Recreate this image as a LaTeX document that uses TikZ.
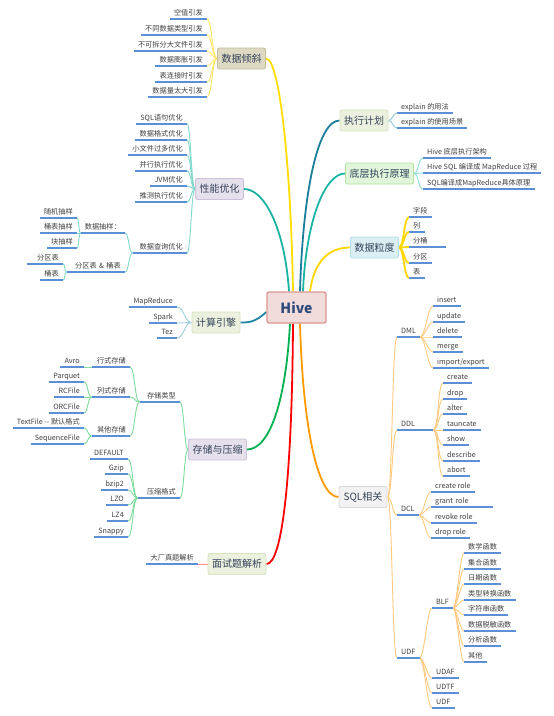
\documentclass[tikz,border=0pt]{standalone}
\usepackage{fontspec}
\setmainfont{Noto Sans CJK SC}
\usetikzlibrary{backgrounds}

\definecolor{ulblue}{HTML}{5B8FD6}
\definecolor{leaftext}{HTML}{404040}
\definecolor{topictext}{HTML}{34425A}
\definecolor{hivetext}{HTML}{2E4A7A}
\definecolor{hivefill}{HTML}{F2DCDB}
\definecolor{hiveline}{HTML}{D99694}
\definecolor{tanfill}{HTML}{DDD9C3}
\definecolor{tanline}{HTML}{C4BD97}
\definecolor{lilfill}{HTML}{E5E0EC}
\definecolor{lilline}{HTML}{CCC1DA}
\definecolor{olvfill}{HTML}{EBF1DE}
\definecolor{olvline}{HTML}{D7E4BD}
\definecolor{mintfill}{HTML}{E0F5D9}
\definecolor{mintline}{HTML}{B2E3A4}
\definecolor{skyfill}{HTML}{DBEEF4}
\definecolor{skyline}{HTML}{B7DDE8}
\definecolor{grayfill}{HTML}{F2F2F2}
\definecolor{grayline}{HTML}{D9D9D9}
\definecolor{cskew}{HTML}{FFDD00}
\definecolor{cskewl}{HTML}{FFE566}
\definecolor{cperf}{HTML}{1AB2A0}
\definecolor{cperfl}{HTML}{80D9CC}
\definecolor{ceng}{HTML}{1F86A3}
\definecolor{cengl}{HTML}{9ACFE0}
\definecolor{cstore}{HTML}{00B050}
\definecolor{cstorel}{HTML}{7DDB9C}
\definecolor{cintv}{HTML}{FF0000}
\definecolor{cintvl}{HTML}{FF8A8A}
\definecolor{cplan}{HTML}{1B7F9B}
\definecolor{cplanl}{HTML}{8CCAD9}
\definecolor{carch}{HTML}{1AB5A5}
\definecolor{carchl}{HTML}{88DFD5}
\definecolor{cgrain}{HTML}{FFD700}
\definecolor{csql}{HTML}{FF9A00}
\definecolor{csqll}{HTML}{FFC97F}

\begin{document}
\begin{tikzpicture}[x=1pt,y=-1pt,
  uline/.style={draw=ulblue,line width=1.3pt},
  leaf/.style={font=\fontsize{7.2}{8}\selectfont,text=leaftext,inner xsep=4pt,inner ysep=2pt,
    text height=6pt,text depth=1.5pt,
    append after command={(\tikzlastnode.south west) edge[uline] (\tikzlastnode.south east)}},
  lleaf/.style={leaf,anchor=south east},
  rleaf/.style={leaf,anchor=south west},
  lw/.style={text width=#1,align=right},
  rw/.style={text width=#1,align=left},
  topic/.style={draw,rounded corners=2pt,line width=0.9pt,font=\fontsize{10}{12}\selectfont,
    text=topictext,inner xsep=4pt,minimum height=21pt,minimum width=48pt},
  main/.style={line width=1.8pt},
  sub/.style={line width=0.9pt}]
\useasboundingbox (0,0) rectangle (554,716);

\node[topic,fill=hivefill,draw=hiveline,line width=1.3pt,font=\fontsize{14}{16}\selectfont\bfseries,
  text=hivetext,minimum width=59pt,minimum height=31pt] (hive) at (296.5,307.5) {Hive};

\node[topic,fill=tanfill,draw=tanline] (skew) at (241.5,58.5) {数据倾斜};
\node[topic,fill=lilfill,draw=lilline] (perf) at (219.5,189) {性能优化};
\node[topic,fill=olvfill,draw=olvline] (eng) at (216,322.5) {计算引擎};
\node[topic,fill=lilfill,draw=lilline] (store) at (217.5,449.5) {存储与压缩};
\node[topic,fill=olvfill,draw=olvline,minimum width=58pt] (intv) at (237,564) {面试题解析};
\node[topic,fill=olvfill,draw=olvline] (plan) at (364,120.5) {执行计划};
\node[topic,fill=mintfill,draw=mintline] (arch) at (379.5,173.5) {底层执行原理};
\node[topic,fill=skyfill,draw=skyline] (grain) at (374.5,247.5) {数据粒度};
\node[topic,fill=grayfill,draw=grayline] (sql) at (363,497) {SQL相关};

% data skew
\node[lleaf] (skew1) at (207,19) {空值引发};
\node[lleaf] (skew2) at (207,35) {不同数据类型引发};
\node[lleaf] (skew3) at (207,51) {不可拆分大文件引发};
\node[lleaf] (skew4) at (207,66) {数据膨胀引发};
\node[lleaf] (skew5) at (207,82) {表连接时引发};
\node[lleaf] (skew6) at (207,97) {数据量太大引发};

% tuning
\node[lleaf] (perf1) at (187,124) {SQL语句优化};
\node[lleaf] (perf2) at (187,140) {数据格式优化};
\node[lleaf] (perf3) at (187,155) {小文件过多优化};
\node[lleaf] (perf4) at (187,171) {并行执行优化};
\node[lleaf] (perf5) at (187,186) {JVM优化};
\node[lleaf] (perf6) at (187,202) {推测执行优化};
\node[lleaf,lw=46pt] (perf7) at (187,253) {数据查询优化};
\node[lleaf] (samp) at (125,233) {数据抽样：};
\node[lleaf] (samp1) at (77,218) {随机抽样};
\node[lleaf] (samp2) at (77,233) {桶表抽样};
\node[lleaf] (samp3) at (77,248) {块抽样};
\node[lleaf,lw=50pt] (part) at (125,272) {分区表 \& 桶表};
\node[lleaf,lw=28pt] (part1) at (63,264) {分区表};
\node[lleaf] (part2) at (63,280) {桶表};

% engines
\node[lleaf] (eng1) at (177,307) {MapReduce};
\node[lleaf] (eng2) at (177,323) {Spark};
\node[lleaf] (eng3) at (177,338) {Tez};

% storage
\node[lleaf,lw=32pt] (type) at (180,402) {存储类型};
\node[lleaf,lw=30pt] (row) at (130,367) {行式存储};
\node[lleaf] (avro) at (84,367) {Avro};
\node[lleaf,lw=30pt] (col) at (130,397) {列式存储};
\node[lleaf] (parq) at (84,382) {Parquet};
\node[lleaf] (rcf) at (84,397) {RCFile};
\node[lleaf] (orc) at (84,413) {ORCFile};
\node[lleaf,lw=30pt] (oth) at (130,436) {其他存储};
\node[lleaf] (txt) at (84,428) {TextFile -{}- 默认格式};
\node[lleaf] (seq) at (84,444) {SequenceFile};
\node[lleaf,lw=34pt] (comp) at (180,498) {压缩格式};
\node[lleaf] (def) at (128,459) {DEFAULT};
\node[lleaf] (gz) at (128,474) {Gzip};
\node[lleaf] (bz) at (128,490) {bzip2};
\node[lleaf] (lzo) at (128,505) {LZO};
\node[lleaf] (lz4) at (128,521) {LZ4};
\node[lleaf] (snap) at (128,537) {Snappy};

% interview
\node[lleaf] (real) at (198,564) {大厂真题解析};

% plan
\node[rleaf] (plan1) at (397,113) {explain 的用法};
\node[rleaf] (plan2) at (397,128) {explain 的使用场景};

% internals
\node[rleaf] (arch1) at (423,158) {Hive 底层执行架构};
\node[rleaf] (arch2) at (423,173) {Hive SQL 编译成 MapReduce 过程};
\node[rleaf] (arch3) at (423,189) {SQL编译成MapReduce具体原理};

% granularity
\node[rleaf] (g1) at (409,217) {字段};
\node[rleaf] (g2) at (409,232) {列};
\node[rleaf,rw=29pt] (g3) at (409,247) {分桶};
\node[rleaf] (g4) at (409,263) {分区};
\node[rleaf] (g5) at (409,278) {表};

% sql
\node[rleaf] (dml) at (397,337) {DML};
\node[rleaf] (ins) at (433,306) {insert};
\node[rleaf] (upd) at (433,322) {update};
\node[rleaf] (del) at (433,337) {delete};
\node[rleaf] (mrg) at (433,352) {merge};
\node[rleaf] (imp) at (433,368) {import/export};
\node[rleaf,rw=28pt] (ddl) at (397,430) {DDL};
\node[rleaf] (crt) at (443,383) {create};
\node[rleaf] (drp) at (443,399) {drop};
\node[rleaf] (alt) at (443,414) {alter};
\node[rleaf] (tau) at (443,430) {tauncate};
\node[rleaf] (shw) at (443,445) {show};
\node[rleaf] (dsc) at (443,461) {describe};
\node[rleaf] (abt) at (443,476) {abort};
\node[rleaf] (dcl) at (397,515) {DCL};
\node[rleaf] (crole) at (431,492) {create role};
\node[rleaf,rw=54pt] (grole) at (431,507) {grant role};
\node[rleaf] (rrole) at (431,523) {revoke role};
\node[rleaf] (drole) at (431,538) {drop role};
\node[rleaf] (udf) at (397,658) {UDF};
\node[rleaf] (blf) at (432,608) {BLF};
\node[rleaf] (fn1) at (464,553) {数学函数};
\node[rleaf] (fn2) at (464,569) {集合函数};
\node[rleaf] (fn3) at (464,584) {日期函数};
\node[rleaf] (fn4) at (464,600) {类型转换函数};
\node[rleaf] (fn5) at (464,615) {字符串函数};
\node[rleaf] (fn6) at (464,631) {数据脱敏函数};
\node[rleaf] (fn7) at (464,646) {分析函数};
\node[rleaf] (fn8) at (464,662) {其他};
\node[rleaf] (udaf) at (432,678) {UDAF};
\node[rleaf] (udtf) at (432,693) {UDTF};
\node[rleaf] (udf2) at (432,708) {UDF};

\begin{scope}[on background layer]
\fill[white] (0,0) rectangle (554,716);
% from the root
\draw[main,cskew] ([xshift=-3.5pt]hive.north) .. controls (291,170) and (280,58.5) .. (skew.east);
\draw[main,cperf] ([xshift=-7.5pt]hive.north) .. controls (285,230) and (265,189) .. (perf.east);
\draw[main,cplan] ([xshift=3.5pt]hive.north) .. controls (303,190) and (318,120.5) .. (plan.west);
\draw[main,carch] ([xshift=6.5pt]hive.north) .. controls (306,220) and (325,173.5) .. (arch.west);
\draw[main,cgrain] ([xshift=13.5pt]hive.north) .. controls (314,262) and (328,247.5) .. (grain.west);
\draw[main,ceng] ([yshift=-4.5pt]hive.west) .. controls (255,322) and (250,322.5) .. (eng.east);
\draw[main,cstore] ([xshift=-6.5pt]hive.south) .. controls (286,400) and (270,449.5) .. (store.east);
\draw[main,cintv] ([xshift=-3.5pt]hive.south) .. controls (292,480) and (282,564) .. (intv.east);
\draw[main,csql] ([xshift=3.5pt]hive.south) .. controls (303,430) and (318,497) .. (sql.west);

\foreach \i in {1,...,6}
  \draw[sub,cskewl] (skew.west) .. controls +(-5,0) and +(5,0) .. (skew\i.south east);
\foreach \i in {1,...,7}
  \draw[sub,cperfl] (perf.west) .. controls +(-4,0) and +(4,0) .. (perf\i.south east);
\foreach \n in {samp,part}
  \draw[sub,cperfl] (perf7.south west) .. controls +(-4,0) and +(4,0) .. (\n.south east);
\foreach \n in {samp1,samp2,samp3}
  \draw[sub,cperfl] (samp.south west) .. controls +(-2,0) and +(2,0) .. (\n.south east);
\foreach \n in {part1,part2}
  \draw[sub,cperfl] (part.south west) .. controls +(-3,0) and +(3,0) .. (\n.south east);
\foreach \i in {1,2,3}
  \draw[sub,cengl] (eng.west) .. controls +(-7,0) and +(7,0) .. (eng\i.south east);
\foreach \n in {type,comp}
  \draw[sub,cstorel] (store.west) .. controls +(-4,0) and +(4,0) .. (\n.south east);
\foreach \n in {row,col,oth}
  \draw[sub,cstorel] (type.south west) .. controls +(-5,0) and +(5,0) .. (\n.south east);
\draw[sub,cstorel] (row.south west) -- (avro.south east);
\foreach \n in {parq,rcf,orc}
  \draw[sub,cstorel] (col.south west) .. controls +(-4,0) and +(4,0) .. (\n.south east);
\foreach \n in {txt,seq}
  \draw[sub,cstorel] (oth.south west) .. controls +(-4,0) and +(4,0) .. (\n.south east);
\foreach \n in {def,gz,bz,lzo,lz4,snap}
  \draw[sub,cstorel] (comp.south west) .. controls +(-5,0) and +(5,0) .. (\n.south east);
\draw[sub,cintvl] (intv.west) -- (real.south east);

\foreach \n in {plan1,plan2}
  \draw[sub,cplanl] (plan.east) .. controls +(4,0) and +(-4,0) .. (\n.south west);
\foreach \i in {1,2,3}
  \draw[sub,carchl] (arch.east) .. controls +(5,0) and +(-5,0) .. (arch\i.south west);
\foreach \i in {1,...,5}
  \draw[main,cgrain] (grain.east) .. controls +(5,0) and +(-5,0) .. (g\i.south west);
\foreach \n in {dml,ddl,dcl,udf}
  \draw[sub,csqll] (sql.east) .. controls +(5,0) and +(-5,0) .. (\n.south west);
\foreach \n in {ins,upd,del,mrg,imp}
  \draw[sub,csqll] (dml.south east) .. controls +(5,0) and +(-5,0) .. (\n.south west);
\foreach \n in {crt,drp,alt,tau,shw,dsc,abt}
  \draw[sub,csqll] (ddl.south east) .. controls +(5,0) and +(-5,0) .. (\n.south west);
\foreach \n in {crole,grole,rrole,drole}
  \draw[sub,csqll] (dcl.south east) .. controls +(5,0) and +(-5,0) .. (\n.south west);
\foreach \n in {blf,udaf,udtf,udf2}
  \draw[sub,csqll] (udf.south east) .. controls +(5,0) and +(-5,0) .. (\n.south west);
\foreach \i in {1,...,8}
  \draw[sub,csqll] (blf.south east) .. controls +(4,0) and +(-4,0) .. (fn\i.south west);
\end{scope}
\end{tikzpicture}
\end{document}
